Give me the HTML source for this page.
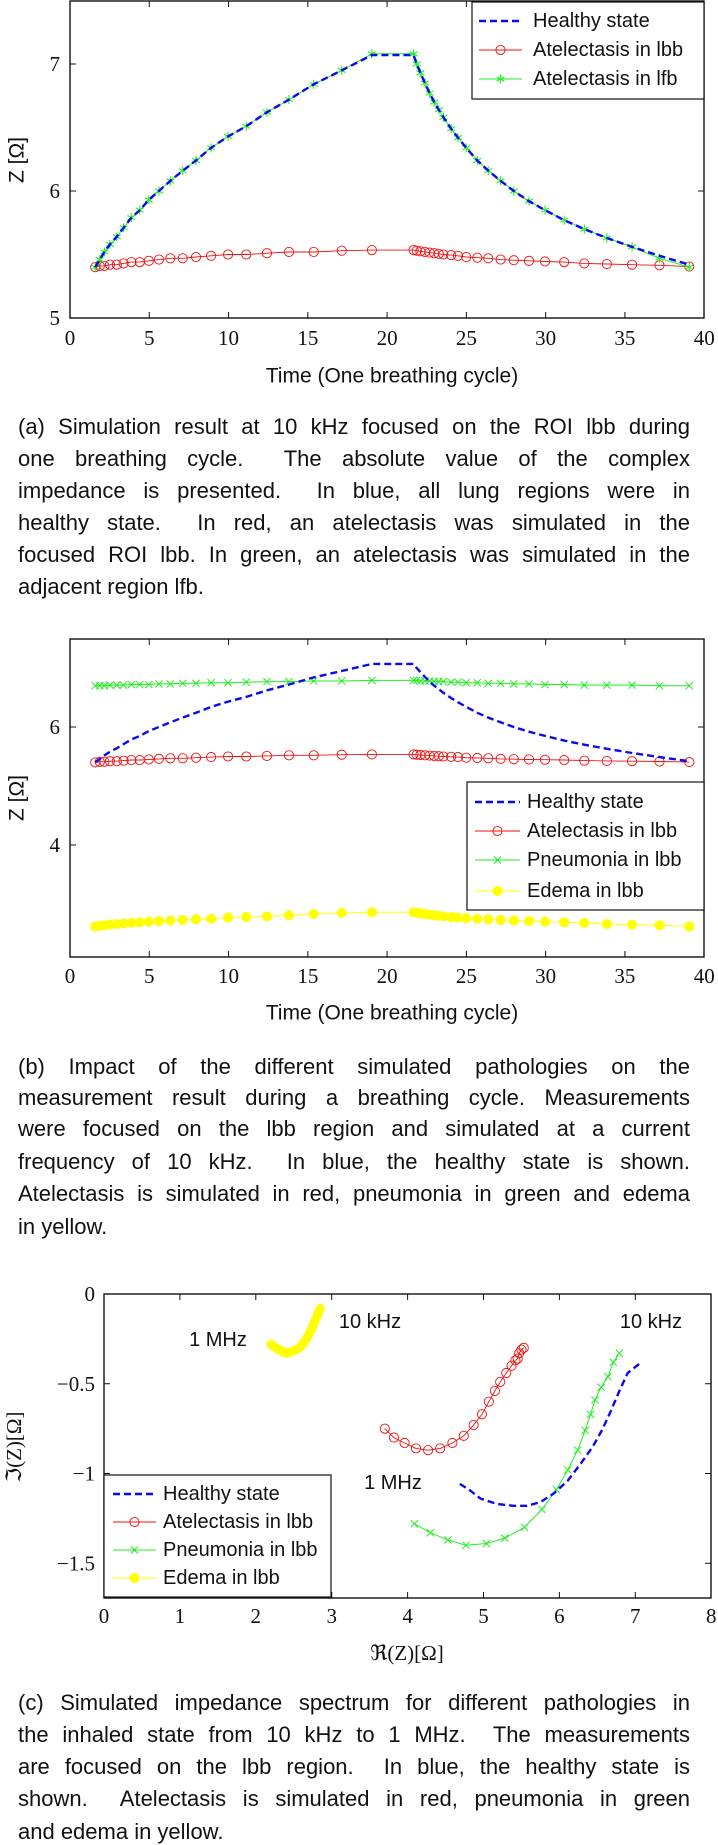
<!DOCTYPE html>
<html><head><meta charset="utf-8">
<style>
html,body{margin:0;padding:0;background:#fff;}
body{width:718px;height:1844px;position:relative;overflow:hidden;font-family:"Liberation Sans",sans-serif;color:#111;}
svg{position:absolute;left:0;top:0;}
.cap{position:absolute;left:18px;width:672px;font-size:22px;line-height:26px;white-space:nowrap;text-align:justify;text-align-last:justify;}
.cap.last{text-align-last:left;}
</style></head>
<body>
<svg id="svg" width="718" height="1844" xmlns="http://www.w3.org/2000/svg"></svg>

<div class="cap" style="top:414px">(a) Simulation result at 10 kHz focused on the ROI lbb during</div>
<div class="cap" style="top:446px">one breathing cycle.&nbsp; The absolute value of the complex</div>
<div class="cap" style="top:478px">impedance is presented.&nbsp; In blue, all lung regions were in</div>
<div class="cap" style="top:510px">healthy state.&nbsp; In red, an atelectasis was simulated in the</div>
<div class="cap" style="top:542px">focused ROI lbb. In green, an atelectasis was simulated in the</div>
<div class="cap last" style="top:574px">adjacent region lfb.</div>

<div class="cap" style="top:1054px">(b) Impact of the different simulated pathologies on the</div>
<div class="cap" style="top:1085px">measurement result during a breathing cycle. Measurements</div>
<div class="cap" style="top:1116px">were focused on the lbb region and simulated at a current</div>
<div class="cap" style="top:1149px">frequency of 10 kHz.&nbsp; In blue, the healthy state is shown.</div>
<div class="cap" style="top:1181px">Atelectasis is simulated in red, pneumonia in green and edema</div>
<div class="cap last" style="top:1214px">in yellow.</div>

<div class="cap" style="top:1690px">(c) Simulated impedance spectrum for different pathologies in</div>
<div class="cap" style="top:1722px">the inhaled state from 10 kHz to 1 MHz.&nbsp; The measurements</div>
<div class="cap" style="top:1754px">are focused on the lbb region.&nbsp; In blue, the healthy state is</div>
<div class="cap" style="top:1786px">shown.&nbsp; Atelectasis is simulated in red, pneumonia in green</div>
<div class="cap last" style="top:1819px">and edema in yellow.</div>

<script>
// ---- Data: charts (a) and (b) ----
const timeA = [1.59,1.88,2.17,2.52,2.95,3.38,3.87,4.40,4.97,5.61,6.33,7.11,7.95,8.90,9.97,11.12,12.42,13.81,15.37,17.14,19.04,
  21.67,21.87,22.10,22.39,22.68,22.97,23.26,23.55,24.04,24.47,24.99,25.69,26.38,27.16,27.99,28.95,29.96,31.17,32.44,33.86,35.45,37.18,39.06];
const healthy = [5.40,5.46,5.52,5.58,5.64,5.71,5.79,5.85,5.93,6.00,6.08,6.16,6.24,6.34,6.43,6.51,6.62,6.72,6.84,6.95,7.07,
  7.07,7.00,6.93,6.85,6.77,6.70,6.64,6.58,6.49,6.42,6.34,6.24,6.16,6.08,6.00,5.92,5.85,5.77,5.70,5.63,5.56,5.49,5.42];
const atelLfb = [5.40,5.46,5.52,5.58,5.64,5.71,5.79,5.85,5.93,6.00,6.08,6.16,6.24,6.34,6.43,6.51,6.62,6.72,6.84,6.95,7.08,
  7.08,7.00,6.93,6.85,6.77,6.70,6.64,6.58,6.49,6.42,6.34,6.24,6.16,6.08,6.00,5.92,5.85,5.77,5.70,5.63,5.56,5.47,5.40];
const atelLbb = [5.40,5.41,5.41,5.42,5.42,5.43,5.44,5.44,5.45,5.46,5.47,5.47,5.48,5.49,5.50,5.50,5.51,5.52,5.52,5.53,5.535,
  5.535,5.53,5.525,5.52,5.515,5.51,5.505,5.50,5.495,5.49,5.48,5.475,5.47,5.46,5.455,5.45,5.445,5.44,5.43,5.425,5.42,5.415,5.405];
const pneumo = [6.70,6.70,6.70,6.71,6.71,6.71,6.72,6.72,6.72,6.73,6.73,6.74,6.74,6.75,6.75,6.76,6.77,6.77,6.78,6.78,6.79,
  6.79,6.79,6.78,6.78,6.78,6.77,6.77,6.77,6.76,6.76,6.75,6.75,6.74,6.74,6.73,6.73,6.72,6.72,6.71,6.71,6.71,6.70,6.70];
const edema = [2.62,2.63,2.64,2.65,2.66,2.67,2.68,2.69,2.70,2.71,2.72,2.73,2.74,2.75,2.77,2.78,2.79,2.81,2.83,2.85,2.86,
  2.86,2.85,2.84,2.83,2.82,2.81,2.80,2.79,2.78,2.77,2.76,2.75,2.74,2.73,2.72,2.71,2.70,2.69,2.68,2.66,2.65,2.64,2.62];
const xTicksAB = [0,5,10,15,20,25,30,35,40];
const yTicksA = [5,6,7];
const yTicksB = [4,6];
// ---- Data: chart (c) ----
const reHealthy = [7.05,6.90,6.79,6.68,6.56,6.44,6.29,6.11,5.93,5.75,5.57,5.39,5.18,4.96,4.81,4.66];
const imHealthy = [-0.39,-0.44,-0.54,-0.65,-0.76,-0.85,-0.94,-1.04,-1.11,-1.16,-1.18,-1.18,-1.17,-1.14,-1.09,-1.05];
const reAtel = [5.53,5.50,5.47,5.45,5.42,5.37,5.30,5.22,5.15,5.07,4.98,4.87,4.74,4.59,4.43,4.27,4.11,3.96,3.82,3.70];
const imAtel = [-0.30,-0.31,-0.33,-0.36,-0.37,-0.40,-0.44,-0.49,-0.54,-0.60,-0.67,-0.73,-0.79,-0.83,-0.86,-0.87,-0.86,-0.83,-0.80,-0.75];
const rePneu = [6.79,6.71,6.64,6.55,6.47,6.41,6.34,6.24,6.11,5.96,5.77,5.54,5.28,5.04,4.77,4.53,4.30,4.09];
const imPneu = [-0.33,-0.38,-0.46,-0.52,-0.59,-0.67,-0.76,-0.87,-0.98,-1.09,-1.20,-1.30,-1.36,-1.39,-1.40,-1.37,-1.33,-1.28];
const reEdema = [2.85,2.80,2.74,2.67,2.58,2.48,2.40,2.30,2.20];
const imEdema = [-0.08,-0.13,-0.19,-0.25,-0.30,-0.32,-0.33,-0.31,-0.28];
const xTicksC = [0,1,2,3,4,5,6,7,8];
const yTicksC = [0,-0.5,-1,-1.5];
const yTickLabelsC = ["0","\u22120.5","\u22121","\u22121.5"];

const NS = "http://www.w3.org/2000/svg";
const svg = document.getElementById('svg');
function mk(tag, attrs, parent){
  const e = document.createElementNS(NS, tag);
  for (const k in attrs) e.setAttribute(k, attrs[k]);
  (parent||svg).appendChild(e);
  return e;
}
function txt(x,y,s,size,fam,anchor,parent){
  const t = mk('text',{x:x,y:y,'font-size':size,'font-family':fam,'text-anchor':anchor||'middle','dominant-baseline':'central',fill:'#111'},parent);
  t.textContent = s; return t;
}
const SERIF = '"Liberation Serif", serif', SANS = '"Liberation Sans", sans-serif';
const BLUE='#0a0af0', RED='#f01010', GREEN='#22ee22', YELLOW='#ffff00';

function polyline(xs,ys,fx,fy,style,name){
  const pts = xs.map((x,i)=>fx(x).toFixed(1)+','+fy(ys[i]).toFixed(1)).join(' ');
  const p = mk('polyline',Object.assign({points:pts,fill:'none'},style));
  
  
  return p;
}
function marker(type,cx,cy,color,g){
  if(type==='circle'){ mk('circle',{cx:cx,cy:cy,r:4.6,fill:'none',stroke:color,'stroke-width':0.9},g); }
  else if(type==='dot'){ mk('circle',{cx:cx,cy:cy,r:4.8,fill:color,stroke:color,'stroke-width':0.5},g); }
  else if(type==='star'){ const r=4.5; for(const a of [90,30,-30]){const rad=a*Math.PI/180; mk('line',{x1:cx-r*Math.cos(rad),y1:cy-r*Math.sin(rad),x2:cx+r*Math.cos(rad),y2:cy+r*Math.sin(rad),stroke:color,'stroke-width':1.1},g);} }
  else if(type==='x'){ const r=3.6; mk('line',{x1:cx-r,y1:cy-r,x2:cx+r,y2:cy+r,stroke:color,'stroke-width':1},g); mk('line',{x1:cx-r,y1:cy+r,x2:cx+r,y2:cy-r,stroke:color,'stroke-width':1},g); }
}
function markers(xs,ys,fx,fy,type,color,name){
  const g = mk('g',{});
  
  
  xs.forEach((x,i)=>marker(type,fx(x),fy(ys[i]),color,g));
}
function frame(L,T,R,B,name){
  const r = mk('rect',{x:L,y:T,width:R-L,height:B-T,fill:'none',stroke:'#111','stroke-width':1.4});
  
  
}
function legend(x,y,w,h,items,name){
  const g = mk('g',{});
  
  
  mk('rect',{x:x,y:y,width:w,height:h,fill:'#fff',stroke:'#111','stroke-width':1.2},g);
  items.forEach(it=>{
    const e = mk('g',{},g);
    
    
    const st = {x1:it.x1,x2:it.x2,y1:it.y,y2:it.y,stroke:it.color,'stroke-width':it.w};
    if(it.dash) st['stroke-dasharray']=it.dash;
    mk('line',st,e);
    if(it.m) marker(it.m,(it.x1+it.x2)/2,it.y,it.color,e);
    txt(it.tx,it.y,it.label,20,SANS,'start',e);
  });
}

// ================= Chart A =================
const xA = t => 70 + t*15.855;
const yA = v => 318 - (v-5)*127;
frame(70,1,704,318,'plot-area-a');
xTicksAB.forEach(t=>{
  const x=xA(t);
  if(t>0&&t<40){ mk('line',{x1:x,x2:x,y1:318,y2:312,stroke:'#111','stroke-width':1}); mk('line',{x1:x,x2:x,y1:1,y2:7,stroke:'#111','stroke-width':1}); }
  const l = txt(x,338,String(t),21,SERIF);
  
  
});
yTicksA.forEach(v=>{
  const y=yA(v);
  if(v>5){ mk('line',{x1:70,x2:76,y1:y,y2:y,stroke:'#111','stroke-width':1}); mk('line',{x1:704,x2:698,y1:y,y2:y,stroke:'#111','stroke-width':1}); }
  const l = txt(60,y,String(v),21,SERIF,'end');
  
  
});
let t1 = txt(392,376,'Time (One breathing cycle)',21,SANS);


let t2 = txt(0,0,'Z [\u03A9]',21,SANS); t2.setAttribute('transform','translate(17,160) rotate(-90)');


polyline(timeA,atelLbb,xA,yA,{stroke:RED,'stroke-width':0.9},'series-atelectasis-lbb-a');
markers(timeA,atelLbb,xA,yA,'circle',RED,'markers-atelectasis-lbb-a');
polyline(timeA,atelLfb,xA,yA,{stroke:GREEN,'stroke-width':1},'series-atelectasis-lfb-a');
markers(timeA,atelLfb,xA,yA,'star',GREEN,'markers-atelectasis-lfb-a');
polyline(timeA,healthy,xA,yA,{stroke:BLUE,'stroke-width':2.4,'stroke-dasharray':'7,4'},'series-healthy-a');
legend(472,2,232,97,[
  {label:'Healthy state',color:BLUE,w:2.6,dash:'7,4',x1:479,x2:522,y:21,tx:533},
  {label:'Atelectasis in lbb',color:RED,w:0.9,m:'circle',x1:479,x2:522,y:50,tx:533},
  {label:'Atelectasis in lfb',color:GREEN,w:1,m:'star',x1:479,x2:522,y:79,tx:533}
],'legend-a');

// ================= Chart B =================
const xB = t => 70 + t*15.855;
const yB = v => 845 - (v-4)*59;
frame(70,639,704,957,'plot-area-b');
xTicksAB.forEach(t=>{
  const x=xB(t);
  if(t>0&&t<40){ mk('line',{x1:x,x2:x,y1:957,y2:951,stroke:'#111','stroke-width':1}); mk('line',{x1:x,x2:x,y1:639,y2:645,stroke:'#111','stroke-width':1}); }
  const l = txt(x,976,String(t),21,SERIF);
  
  
});
yTicksB.forEach(v=>{
  const y=yB(v);
  mk('line',{x1:70,x2:76,y1:y,y2:y,stroke:'#111','stroke-width':1}); mk('line',{x1:704,x2:698,y1:y,y2:y,stroke:'#111','stroke-width':1});
  const l = txt(60,y,String(v),21,SERIF,'end');
  
  
});
let t3 = txt(392,1013,'Time (One breathing cycle)',21,SANS);


let t4 = txt(0,0,'Z [\u03A9]',21,SANS); t4.setAttribute('transform','translate(17,798) rotate(-90)');


polyline(timeA,edema,xB,yB,{stroke:YELLOW,'stroke-width':1},'series-edema-b');
markers(timeA,edema,xB,yB,'dot',YELLOW,'markers-edema-b');
polyline(timeA,atelLbb,xB,yB,{stroke:RED,'stroke-width':0.9},'series-atelectasis-b');
markers(timeA,atelLbb,xB,yB,'circle',RED,'markers-atelectasis-b');
polyline(timeA,pneumo,xB,yB,{stroke:GREEN,'stroke-width':1},'series-pneumonia-b');
markers(timeA,pneumo,xB,yB,'x',GREEN,'markers-pneumonia-b');
polyline(timeA,healthy,xB,yB,{stroke:BLUE,'stroke-width':2.4,'stroke-dasharray':'7,4'},'series-healthy-b');
legend(467,782,237,128,[
  {label:'Healthy state',color:BLUE,w:2.6,dash:'7,4',x1:475,x2:520,y:802,tx:527},
  {label:'Atelectasis in lbb',color:RED,w:0.9,m:'circle',x1:475,x2:520,y:831,tx:527},
  {label:'Pneumonia in lbb',color:GREEN,w:1,m:'x',x1:475,x2:520,y:860,tx:527},
  {label:'Edema in lbb',color:YELLOW,w:1,m:'dot',x1:475,x2:520,y:891,tx:527}
],'legend-b');

// ================= Chart C =================
const xC = r => 104 + r*75.9;
const yC = i => 1294 - i*179.5;
frame(104,1294,711,1598,'plot-area-c');
xTicksC.forEach(r=>{
  const x=xC(r);
  if(r>0&&r<8){ mk('line',{x1:x,x2:x,y1:1598,y2:1592,stroke:'#111','stroke-width':1}); mk('line',{x1:x,x2:x,y1:1294,y2:1300,stroke:'#111','stroke-width':1}); }
  const l = txt(x,1616,String(r),21,SERIF);
  
  
});
yTicksC.forEach((v,i)=>{
  const y=yC(v);
  if(v<0){ mk('line',{x1:104,x2:110,y1:y,y2:y,stroke:'#111','stroke-width':1}); mk('line',{x1:711,x2:705,y1:y,y2:y,stroke:'#111','stroke-width':1}); }
  const l = txt(95,y,yTickLabelsC[i],21,SERIF,'end');
  
  
});
let t5 = txt(407,1653,'\u211C(Z)[\u03A9]',21,SERIF);


let t6 = txt(0,0,'\u2111(Z)[\u03A9]',21,SERIF); t6.setAttribute('transform','translate(14,1447) rotate(-90)');


polyline(reEdema,imEdema,xC,yC,{stroke:YELLOW,'stroke-width':9,'stroke-linecap':'round','stroke-linejoin':'round'},'series-edema-c');
polyline(reAtel,imAtel,xC,yC,{stroke:RED,'stroke-width':0.9},'series-atelectasis-c');
markers(reAtel,imAtel,xC,yC,'circle',RED,'markers-atelectasis-c');
polyline(rePneu,imPneu,xC,yC,{stroke:GREEN,'stroke-width':1},'series-pneumonia-c');
markers(rePneu,imPneu,xC,yC,'x',GREEN,'markers-pneumonia-c');
polyline(reHealthy,imHealthy,xC,yC,{stroke:BLUE,'stroke-width':2.4,'stroke-dasharray':'7,4'},'series-healthy-c');
[['1 MHz',218,1340,'annotation-1mhz-edema'],['10 kHz',370,1322,'annotation-10khz-edema'],['10 kHz',651,1322,'annotation-10khz-healthy'],['1 MHz',393,1483,'annotation-1mhz-healthy']].forEach(a=>{
  const l = txt(a[1],a[2],a[0],20,SANS);
  
  
});
legend(104,1475,227,122,[
  {label:'Healthy state',color:BLUE,w:2.6,dash:'7,4',x1:113,x2:156,y:1494,tx:163},
  {label:'Atelectasis in lbb',color:RED,w:0.9,m:'circle',x1:113,x2:156,y:1522,tx:163},
  {label:'Pneumonia in lbb',color:GREEN,w:1,m:'x',x1:113,x2:156,y:1550,tx:163},
  {label:'Edema in lbb',color:YELLOW,w:1,m:'dot',x1:113,x2:156,y:1578,tx:163}
],'legend-c');
</script>
</body></html>
